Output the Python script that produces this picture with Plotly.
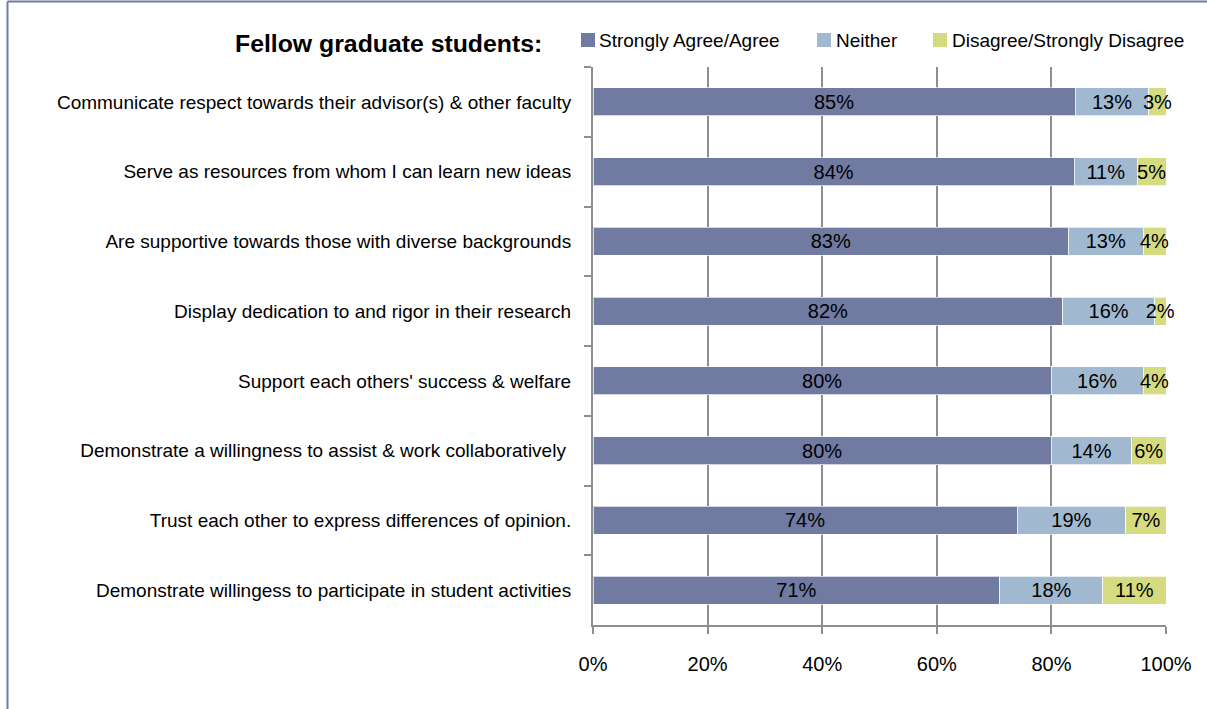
import plotly.graph_objects as go

# Survey items (top to bottom)
statements = [
    "Communicate respect towards their advisor(s) & other faculty",
    "Serve as resources from whom I can learn new ideas",
    "Are supportive towards those with diverse backgrounds",
    "Display dedication to and rigor in their research",
    "Support each others' success & welfare",
    "Demonstrate a willingness to assist & work collaboratively\u00a0",
    "Trust each other to express differences of opinion.",
    "Demonstrate willingess to participate in student activities",
]

# Response shares (%)
agree = [85, 84, 83, 82, 80, 80, 74, 71]
neither = [13, 11, 13, 16, 16, 14, 19, 18]
disagree = [3, 5, 4, 2, 4, 6, 7, 11]

series_names = ["Strongly Agree/Agree", "Neither", "Disagree/Strongly Disagree"]
series_values = [agree, neither, disagree]
series_colors = ["#717AA1", "#A0B9D1", "#D5DB7F"]

x_ticks = [0, 20, 40, 60, 80, 100]

FONT = "Liberation Sans, Arial, sans-serif"
W, H = 1207, 709
L, R, T, B = 593, 41, 67, 84
PW, PH = W - L - R, H - T - B

fig = go.Figure()
for name, vals, col in zip(series_names, series_values, series_colors):
    fig.add_trace(go.Bar(
        y=statements,
        x=vals,
        orientation="h",
        name=name,
        marker=dict(color=col, line=dict(color="rgba(255,255,255,0.7)", width=1)),
        text=[f"{v}%" for v in vals],
        textposition="inside",
        insidetextanchor="middle",
        textangle=0,
        constraintext="none",
        cliponaxis=False,
        textfont=dict(family=FONT, size=20, color="#000000"),
        showlegend=False,
    ))


def px_x(px):
    return (px - L) / PW


def px_y(py):
    return (H - B - py) / PH


# Legend row drawn beside the heading
shapes = []
annotations = []
legend_items = [(581, 599), (817, 836), (933, 952)]
for (sq_x, tx_x), name, col in zip(legend_items, series_names, series_colors):
    shapes.append(dict(type="rect", xref="paper", yref="paper",
                       x0=px_x(sq_x), x1=px_x(sq_x + 14),
                       y0=px_y(47), y1=px_y(33),
                       fillcolor=col, line=dict(width=0)))
    annotations.append(dict(xref="paper", yref="paper", x=px_x(tx_x - 2), y=px_y(41),
                            xanchor="left", yanchor="middle", showarrow=False,
                            text=name, font=dict(family=FONT, size=19, color="#000000")))

annotations.append(dict(xref="paper", yref="paper", x=px_x(544), y=px_y(43),
                        xanchor="right", yanchor="middle", showarrow=False,
                        text="<b>Fellow graduate students:</b>",
                        font=dict(family=FONT, size=24.8, color="#000000")))

# Frame lines along the top and left of the page
shapes.append(dict(type="line", xref="paper", yref="paper",
                   x0=px_x(7.5), x1=px_x(W + 5), y0=px_y(1.5), y1=px_y(1.5),
                   line=dict(color="#717AA1", width=2)))
shapes.append(dict(type="line", xref="paper", yref="paper",
                   x0=px_x(7.5), x1=px_x(7.5), y0=px_y(1.5), y1=px_y(H + 5),
                   line=dict(color="#717AA1", width=2)))

fig.update_layout(
    width=W, height=H,
    margin=dict(l=L, r=R, t=T, b=B),
    barmode="stack",
    barnorm="percent",
    bargap=0.6,
    plot_bgcolor="white",
    paper_bgcolor="white",
    font=dict(family=FONT, size=20, color="#000000"),
    shapes=shapes,
    annotations=annotations,
    xaxis=dict(
        range=[0, 100],
        tickvals=x_ticks,
        ticktext=[f"{v}%" for v in x_ticks],
        showgrid=True, gridcolor="#8E8E8E", gridwidth=1.5,
        showline=True, linecolor="#8E8E8E", linewidth=2,
        ticks="outside", ticklen=7, tickcolor="#8E8E8E", tickwidth=1.5,
        ticklabelstandoff=13,
        tickfont=dict(family=FONT, size=20, color="#000000"),
        zeroline=False,
        automargin=False,
        fixedrange=True,
    ),
    yaxis=dict(
        categoryorder="array",
        categoryarray=statements,
        autorange="reversed",
        tickson="boundaries",
        ticks="outside", ticklen=7, tickcolor="#8E8E8E", tickwidth=1.5,
        showline=True, linecolor="#8E8E8E", linewidth=2,
        showgrid=False,
        ticklabelstandoff=16,
        tickfont=dict(family=FONT, size=19, color="#000000"),
        automargin=False,
        fixedrange=True,
    ),
)

fig.write_html("out.html")
